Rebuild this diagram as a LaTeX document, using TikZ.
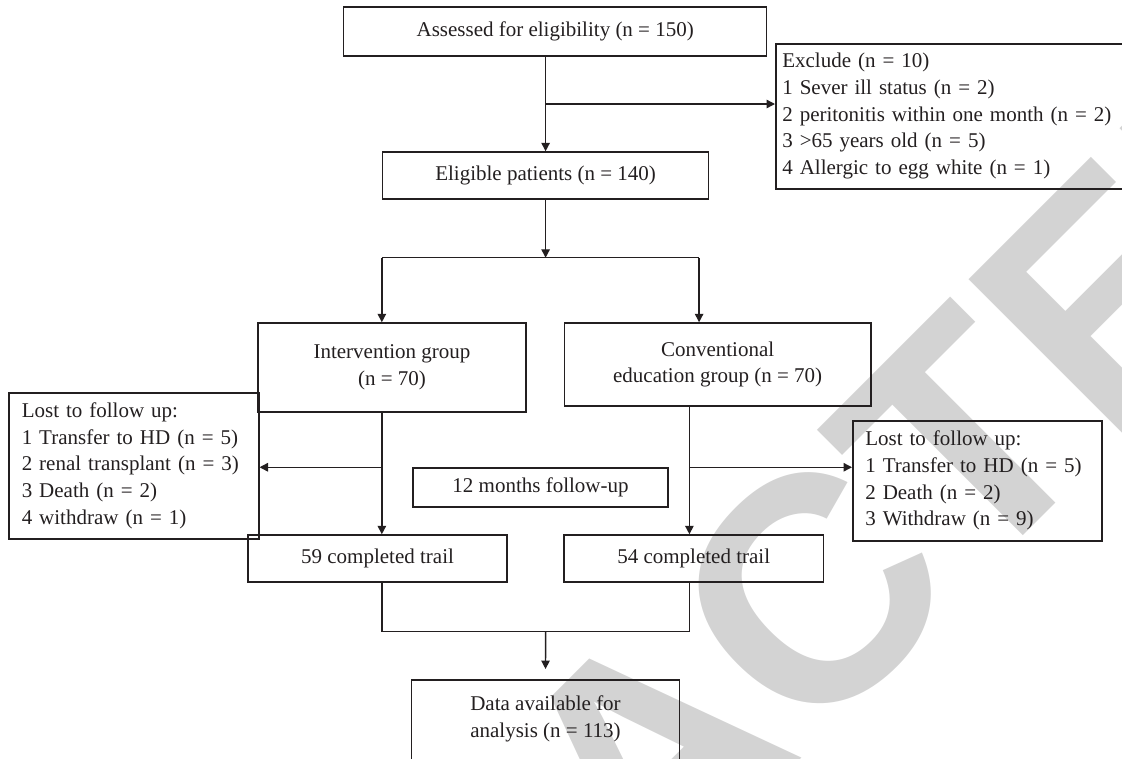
\documentclass[tikz,border=0pt]{standalone}
\usepackage{fontspec}
\setmainfont{Liberation Serif}
\newfontfamily\stampfont{Liberation Sans}
\usetikzlibrary{positioning,arrows.meta,calc}
\definecolor{flowDark}{RGB}{35,31,32}
\definecolor{stampGray}{RGB}{211,211,211}

\begin{document}
\begin{tikzpicture}[x=1pt,y=-1pt,
      box/.style={draw=flowDark,line width=1.5pt,inner sep=0pt,align=center,text=flowDark,font=\fontsize{21}{26.7}\selectfont},
      list/.style={box,align=left,anchor=north west},
      arr/.style={-{Triangle[length=8.5pt,width=8.5pt]},flowDark,line width=1.4pt},
      link/.style={flowDark,line width=1.4pt}]
    \useasboundingbox (0,0) rectangle (1122,758);
    % stamp behind the chart
    \node[rotate=45,inner sep=0pt,text=stampGray,font=\stampfont\bfseries\fontsize{320}{320}\selectfont] (stamp) at (648,756) {RETRACTED};
    \node[box,minimum width=423pt,minimum height=49pt] (assess) at (555.2,31.5) {Assessed for eligibility (n = 150)};
    \node[list,text width=347pt,minimum height=145pt,inner xsep=6.5pt] (excl) at (775,43) {Exclude (n = 10)\\1 Sever ill status (n = 2)\\2 peritonitis within one month (n = 2)\\3 >65 years old (n = 5)\\4 Allergic to egg white (n = 1)};
    \node[box,minimum width=326pt,minimum height=47pt] (elig) at (545.6,175.5) {Eligible patients (n = 140)};
    \node[box,minimum width=268pt,minimum height=89pt] (interv) at (392,367.5) {Intervention group\\(n = 70)};
    \node[box,minimum width=306.7pt,minimum height=83pt] (conv) at (717.6,364.5) {Conventional\\education group (n = 70)};
    \node[list,text width=224pt,minimum height=146pt,inner xsep=13pt] (lostA) at (8,392) {Lost to follow up:\\1 Transfer to HD (n = 5)\\2 renal transplant (n = 3)\\3 Death (n = 2)\\4 withdraw (n = 1)};
    \node[list,text width=224pt,minimum height=120pt,inner xsep=12.5pt] (lostB) at (852,420) {Lost to follow up:\\1 Transfer to HD (n = 5)\\2 Death (n = 2)\\3 Withdraw (n = 9)};
    \node[box,minimum width=255pt,minimum height=39pt] (follow) at (540.5,487.5) {12 months follow-up};
    \node[box,minimum width=259pt,minimum height=47pt] (doneA) at (377.5,558.5) {59 completed trail};
    \node[box,minimum width=259.4pt,minimum height=47pt] (doneB) at (693.7,558.5) {54 completed trail};
    \node[box,anchor=north,minimum width=268.3pt,inner ysep=16pt] (data) at (545.5,679) {\parbox[t][100pt][t]{260pt}{\centering Data available for\\analysis (n = 113)}};
    % connectors
    \coordinate (spine) at (elig.north |- assess.south);
    \coordinate (exclBr) at ($(spine)!0.5!(elig.north)$);
    \draw[arr] (spine) -- (elig.north);
    \draw[arr] (exclBr) -- (exclBr -| excl.west);
    \coordinate (split) at ($(elig.south)+(0,58)$);
    \coordinate (splitL) at (split -| elig.west);
    \coordinate (splitR) at ($(split)+(153.5,0)$);
    \draw[arr] (elig.south) -- (split);
    \draw[link] (splitL) -- (splitR);
    \draw[arr] (splitL) -- (splitL |- interv.north);
    \draw[arr] (splitR) -- (splitR |- conv.north);
    \coordinate (armA) at (splitL |- interv.south);
    \coordinate (armB) at ($(conv.south)+(-28.2,0)$);
    \draw[arr] (armA) -- (armA |- doneA.north);
    \draw[arr] (armB) -- (armB |- doneB.north);
    \coordinate (lostBrA) at (armA |- follow.north);
    \coordinate (lostBrB) at (armB |- follow.north);
    \draw[arr] (lostBrA) -- (lostBrA -| lostA.east);
    \draw[arr] (lostBrB) -- (lostBrB -| lostB.west);
    \coordinate (mergeA) at ($(armA |- doneA.south)+(0,49)$);
    \coordinate (merge) at (mergeA -| spine);
    \draw[link] (armA |- doneA.south) -- (mergeA) -- (mergeA -| armB) -- (armB |- doneB.south);
    \draw[arr,shorten >=10pt] (merge) -- (data.north);
  \end{tikzpicture}
\end{document}
